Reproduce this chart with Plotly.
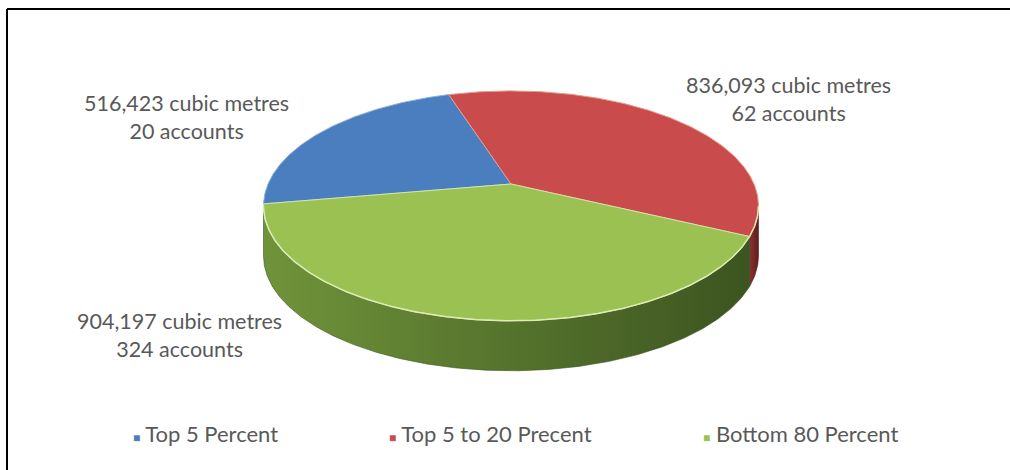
import numpy as np
import plotly.graph_objects as go

# Data
categories = ["Top 5 Percent", "Top 5 to 20 Precent", "Bottom 80 Percent"]
volumes = [516423, 836093, 904197]
accounts = [20, 62, 324]

top_colors = ["#4A7EBF", "#C94B4B", "#9BC153"]
edge_colors = ["#8FB2DE", "#E59A8C", "#D3E6A8"]
side_light = ["#3C6496", "#8A3230", "#70933A"]
side_dark = ["#22406A", "#5E1E1C", "#3C5420"]

# Pie geometry (page pixels)
CX, CY = 511.0, 184.0
RX, RY = 243.0, 110.8
PERSP = 0.19
DEPTH = 50.0
FIRST_SLICE_ANGLE = 260.0  # degrees, clockwise from 12 o'clock


def project(theta_deg, drop=0.0):
    t = np.radians(theta_deg)
    u, v = np.sin(t), np.cos(t)
    s = 1.0 / (1.0 + PERSP * v)
    return CX + RX * u * s, CY - RY * v * s + drop


def arc(a0, a1, drop=0.0, step=0.5):
    n = max(int(abs(a1 - a0) / step), 2)
    th = np.linspace(a0, a1, n + 1)
    return project(th, drop)


fig = go.Figure()

total = sum(volumes)
bounds = []
a = FIRST_SLICE_ANGLE
for val in volumes:
    sweep = 360.0 * val / total
    bounds.append((a, a + sweep))
    a += sweep

# visible front wall between the two silhouette points
vis0 = np.degrees(np.arccos(-PERSP))
vis1 = 360.0 - vis0

for i, (a0, a1) in enumerate(bounds):
    for shift in (-360.0, 0.0, 360.0):
        lo = max(a0 + shift, vis0)
        hi = min(a1 + shift, vis1)
        if hi - lo <= 0.05:
            continue
        tx, ty = arc(lo, hi)
        bx, by = arc(hi, lo, DEPTH)
        fig.add_trace(go.Scatter(
            x=np.concatenate([tx, bx, tx[:1]]),
            y=np.concatenate([ty, by, ty[:1]]),
            mode="lines", fill="toself",
            line=dict(width=0.6, color=side_dark[i]),
            fillgradient=dict(type="horizontal",
                              colorscale=[[0, side_light[i]], [1, side_dark[i]]]),
            hoverinfo="skip", showlegend=False))

# top faces
for i, (a0, a1) in enumerate(bounds):
    ax, ay = arc(a0, a1)
    fig.add_trace(go.Scatter(
        x=np.concatenate([[CX], ax, [CX]]),
        y=np.concatenate([[CY], ay, [CY]]),
        mode="lines", fill="toself", fillcolor=top_colors[i],
        line=dict(width=1, color=edge_colors[i]),
        hoverinfo="skip", showlegend=False))

# bright rim along the front edge of the top face
rx_, ry_ = arc(vis0, vis1)
fig.add_trace(go.Scatter(x=rx_, y=ry_, mode="lines",
                         line=dict(width=1.5, color="#DCEBB8"),
                         hoverinfo="skip", showlegend=False))

# data labels
label_pos = [(186, 117), (788, 99), (179, 335)]
for (lx, ly), vol, acc in zip(label_pos, volumes, accounts):
    fig.add_annotation(x=lx, y=ly, xref="x", yref="y", showarrow=False,
                       text=f"{vol:,} cubic metres<br>{acc} accounts",
                       font=dict(family="Lato", size=21.5, color="#595959"),
                       yanchor="middle", align="center")

# legend row
legend_x = [131, 387, 701]
for lx, name, col in zip(legend_x, categories, top_colors):
    fig.add_annotation(x=lx, y=433, xref="x", yref="y", showarrow=False,
                       xanchor="left",
                       text=(f'<span style="color:{col};font-size:12px">■</span>'
                             f' {name}'),
                       font=dict(family="Lato", size=22, color="#595959"))

# outer frame
fig.add_shape(type="line", x0=7, y0=9, x1=1010, y1=9, xref="x", yref="y",
              line=dict(color="black", width=2))
fig.add_shape(type="line", x0=7, y0=9, x1=7, y1=470, xref="x", yref="y",
              line=dict(color="black", width=2))

fig.update_layout(
    width=1010, height=470,
    margin=dict(l=0, r=0, t=0, b=0),
    paper_bgcolor="white", plot_bgcolor="white",
    xaxis=dict(range=[0, 1010], visible=False, fixedrange=True),
    yaxis=dict(range=[470, 0], visible=False, fixedrange=True),
    showlegend=False,
)

fig.write_html("out.html")
